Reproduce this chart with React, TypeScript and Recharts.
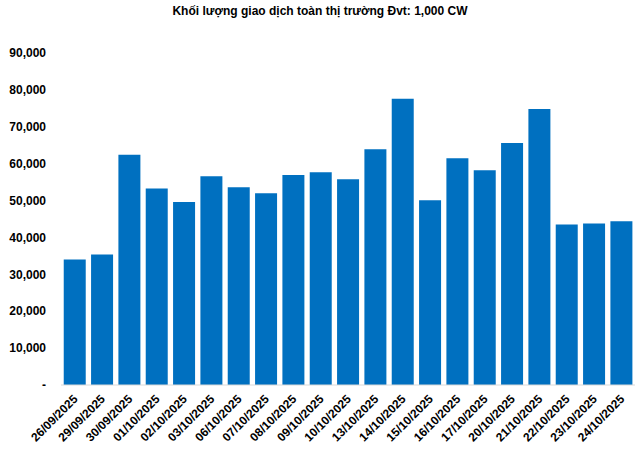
import React from 'react';
import { BarChart, Bar, XAxis, YAxis } from 'recharts';

const dates = [
  '26/09/2025', '29/09/2025', '30/09/2025', '01/10/2025', '02/10/2025', '03/10/2025',
  '06/10/2025', '07/10/2025', '08/10/2025', '09/10/2025', '10/10/2025', '13/10/2025',
  '14/10/2025', '15/10/2025', '16/10/2025', '17/10/2025', '20/10/2025', '21/10/2025',
  '22/10/2025', '23/10/2025', '24/10/2025',
];

const volumes = [
  34000, 35400, 62400, 53300, 49600, 56600,
  53600, 52000, 56900, 57700, 55800, 63900,
  77600, 50100, 61500, 58200, 65600, 74800,
  43500, 43800, 44400,
];

const yTicks = [0, 10000, 20000, 30000, 40000, 50000, 60000, 70000, 80000, 90000];

const data = dates.map((d, i) => ({ date: d, volume: volumes[i] }));

const FONT = '"Liberation Sans", Arial, sans-serif';

function fmt(v: number) {
  return v === 0 ? '-' : v.toLocaleString('en-US');
}

function DateTick({ x, y, payload }: any) {
  return (
    <g transform={`translate(${x + 1},${y + 4})`}>
      <text
        x={0}
        y={0}
        dy={4}
        textAnchor="end"
        transform="rotate(-45)"
        fill="#000"
        fontSize={12}
        fontWeight="bold"
        fontFamily={FONT}
      >
        {payload.value}
      </text>
    </g>
  );
}

export default function App() {
  return (
    <div style={{ position: 'absolute', left: 0, top: 0, width: 640, height: 449, background: '#fff' }}>
      <div
        style={{
          position: 'absolute',
          top: 4,
          left: 0,
          width: 640,
          textAlign: 'center',
          fontFamily: FONT,
          fontWeight: 'bold',
          fontSize: 12,
          color: '#000',
        }}
      >
        Khối lượng giao dịch toàn thị trường Đvt: 1,000 CW
      </div>
      <BarChart
        width={640}
        height={449}
        data={data}
        margin={{ top: 53, right: 5, bottom: 0, left: 0 }}
        barCategoryGap="10%"
      >
        <XAxis
          dataKey="date"
          interval={0}
          height={64}
          tickLine={false}
          axisLine={{ stroke: '#d9d9d9' }}
          tick={<DateTick />}
        />
        <YAxis
          width={61}
          domain={[0, 90000]}
          ticks={yTicks}
          tickFormatter={fmt}
          axisLine={false}
          tickLine={false}
          tickMargin={9}
          tick={{ fill: '#000', fontSize: 12, fontWeight: 'bold', fontFamily: FONT }}
        />
        <Bar dataKey="volume" fill="#0070C0" isAnimationActive={false} />
      </BarChart>
    </div>
  );
}
